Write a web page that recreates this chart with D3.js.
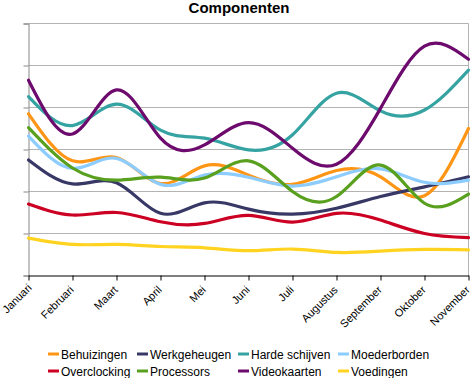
<!DOCTYPE html>
<html>
<head>
<meta charset="utf-8">
<script src="https://cdn.jsdelivr.net/npm/d3@7"></script>
<style>
  html, body { margin: 0; padding: 0; background: #fff; }
  svg { display: block; font-family: "Liberation Sans", Arial, sans-serif; }
</style>
</head>
<body>
<svg id="chart" width="471" height="378"></svg>
<script>
// ---- data ----
const months = ["Januari","Februari","Maart","April","Mei","Juni","Juli","Augustus","September","Oktober","November"];
const seriesNames = ["Behuizingen","Werkgeheugen","Harde schijven","Moederborden","Overclocking","Processors","Videokaarten","Voedingen"];
const behuizingen   = [38.5, 27.3, 28.1, 21.9, 26.1, 23.9, 21.7, 25.0, 23.5, 19.0, 35.0];
const werkgeheugen  = [27.5, 21.8, 22.1, 14.8, 17.3, 15.8, 14.6, 16.0, 18.8, 21.1, 23.5];
const hardeSchijven = [42.6, 35.7, 40.8, 34.6, 32.7, 29.9, 33.5, 43.4, 39.2, 39.4, 48.9];
const moederborden  = [33.2, 25.5, 27.9, 21.7, 23.9, 23.4, 21.3, 23.5, 25.4, 22.2, 22.7];
const overclocking  = [17.0, 14.4, 15.0, 12.8, 12.4, 14.3, 12.7, 14.8, 13.2, 10.0, 9.0];
const processors    = [35.2, 25.6, 22.7, 23.4, 23.2, 27.3, 20.0, 18.8, 26.3, 17.2, 19.4];
const videokaarten  = [46.5, 33.7, 44.2, 32.7, 31.1, 36.4, 30.3, 26.5, 39.8, 54.6, 51.5];
const voedingen     = [8.9, 7.4, 7.4, 6.9, 6.6, 5.9, 6.3, 5.5, 5.8, 6.2, 6.1];
const yTicks = [0, 10, 20, 30, 40, 50, 60];
const colors = ["#ff9514","#383866","#36a3a3","#8cccff","#cc0022","#58a01e","#6d0a6d","#ffd320"];

const seriesValues = [behuizingen, werkgeheugen, hardeSchijven, moederborden, overclocking, processors, videokaarten, voedingen];
const series = seriesNames.map((n, i) => ({ name: n, values: seriesValues[i], color: colors[i] }));

// ---- layout ----
const svg = d3.select("#chart");
const mLeft = 28.5, mRight = 468.5, mTop = 23.5, mBottom = 275.5;

const x = d3.scalePoint().domain(months).range([mLeft, mRight]);
const y = d3.scaleLinear().domain([0, 60]).range([mBottom, mTop]);

// gridlines
svg.append("g").selectAll("line").data(yTicks.filter(d => d > 0)).join("line")
  .attr("x1", mLeft).attr("x2", mRight)
  .attr("y1", d => y(d)).attr("y2", d => y(d))
  .attr("stroke", "#b3b3b3").attr("stroke-width", 1);

// right border
svg.append("line").attr("x1", mRight).attr("x2", mRight).attr("y1", mTop).attr("y2", mBottom)
  .attr("stroke", "#b3b3b3").attr("stroke-width", 1);

// y axis (no labels)
const yAxis = d3.axisLeft(y).tickValues(yTicks).tickSize(5).tickFormat("");
const gy = svg.append("g").attr("transform", `translate(${mLeft},0)`).call(yAxis);
gy.select(".domain").attr("stroke", "#888");
gy.selectAll(".tick line").attr("stroke", "#888");

// lines
const line = d3.line()
  .x((d, i) => x(months[i]))
  .y(d => y(d))
  .curve(d3.curveNatural);

svg.append("g").selectAll("path").data(series).join("path")
  .attr("d", d => line(d.values))
  .attr("fill", "none")
  .attr("stroke", d => d.color)
  .attr("stroke-width", 3.2)
  .attr("stroke-linejoin", "round")
  .attr("stroke-linecap", "round");

// x axis
const xAxis = d3.axisBottom(x).tickSize(5).tickSizeOuter(0);
const gx = svg.append("g").attr("transform", `translate(0,${mBottom})`).call(xAxis);
gx.select(".domain").attr("stroke", "#000");
gx.selectAll(".tick line").attr("stroke", "#000");
gx.selectAll(".tick text")
  .attr("font-family", "'Liberation Sans', Arial, sans-serif")
  .attr("font-size", 11)
  .attr("fill", "#000")
  .attr("text-anchor", "end")
  .attr("dy", 0)
  .attr("y", 0)
  .attr("transform", (d, i) => i === 0 ? "translate(3.5,13) rotate(-45)" : "translate(1.5,15) rotate(-45)");

// title
svg.append("text")
  .attr("x", 239).attr("y", 13)
  .attr("text-anchor", "middle")
  .attr("font-size", 15)
  .attr("font-weight", "bold")
  .text("Componenten");

// legend
const colX = [48, 137, 238, 338];
const rowY = [354, 371];
const lg = svg.append("g").selectAll("g").data(series).join("g")
  .attr("transform", (d, i) => `translate(${colX[i % 4]},${rowY[Math.floor(i / 4)]})`);
lg.append("line").attr("x1", 0).attr("x2", 11).attr("y1", 0).attr("y2", 0)
  .attr("stroke", d => d.color).attr("stroke-width", 3);
lg.append("text").attr("x", 13).attr("y", 4.5)
  .attr("font-size", 12)
  .attr("fill", "#000")
  .text(d => d.name);
</script>
</body>
</html>
